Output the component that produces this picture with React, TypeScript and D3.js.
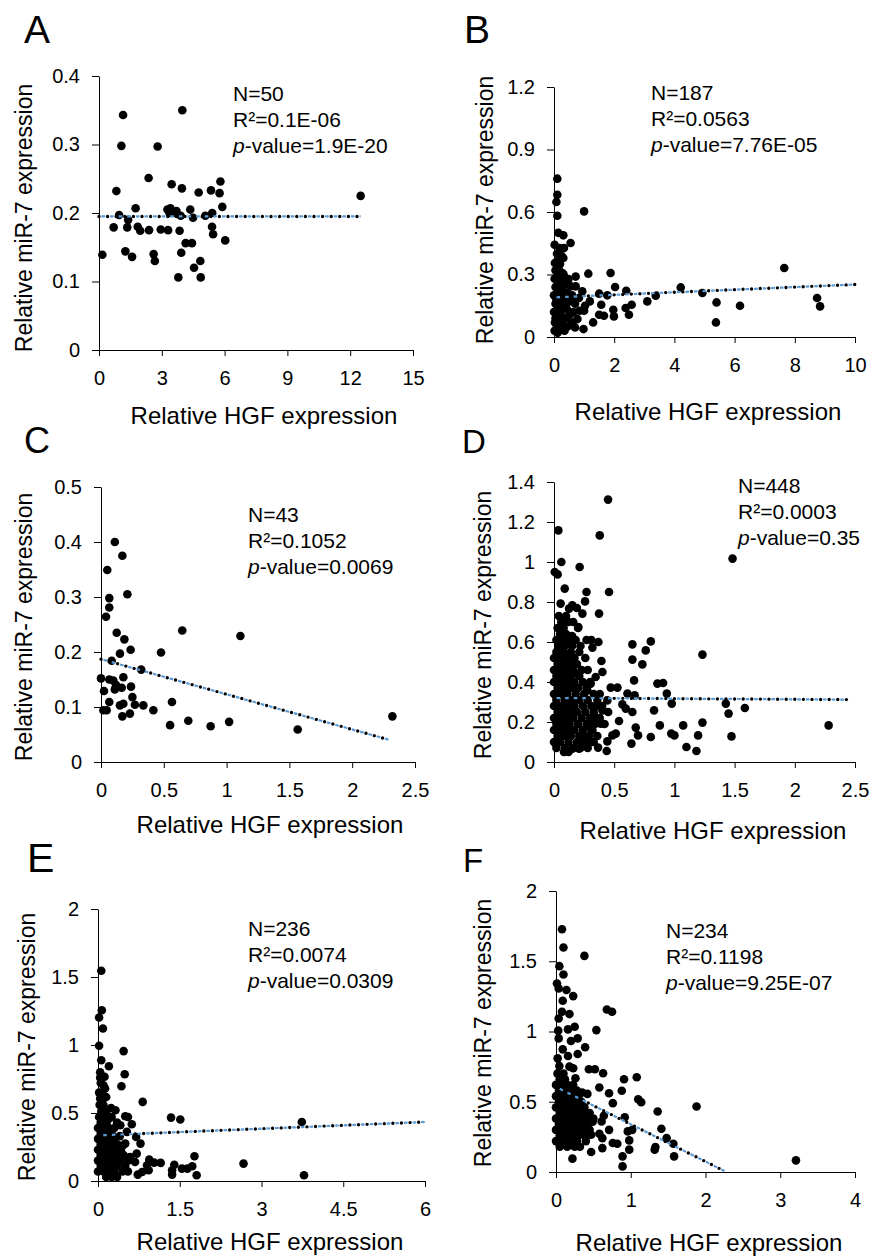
import React, { useEffect, useRef } from 'react';
import * as d3 from 'd3';

type Pt = [number, number];

// ---- panel A ----
const pointsA: Pt[] = [
  [0.16, 0.139], [1.15, 0.343], [1.07, 0.298], [0.83, 0.232], [0.96, 0.197], [0.7, 0.179], [1.39, 0.19],
  [1.35, 0.179], [1.26, 0.144], [1.58, 0.136], [1.75, 0.207], [1.85, 0.18], [1.97, 0.174], [2.39, 0.175],
  [2.37, 0.251], [2.8, 0.297], [2.61, 0.14], [2.67, 0.13], [2.95, 0.176], [3.3, 0.175], [3.27, 0.205],
  [3.41, 0.207], [3.47, 0.242], [3.37, 0.2], [3.7, 0.203], [3.79, 0.106], [3.85, 0.174], [3.96, 0.236],
  [3.98, 0.35], [3.93, 0.142], [3.9, 0.196], [4.14, 0.156], [4.44, 0.156], [4.36, 0.205], [4.49, 0.193],
  [4.54, 0.12], [4.76, 0.23], [4.84, 0.13], [4.86, 0.106], [5.08, 0.196], [5.35, 0.233], [5.41, 0.2],
  [5.4, 0.18], [5.45, 0.169], [5.8, 0.246], [5.76, 0.229], [5.89, 0.209], [6.03, 0.16], [12.5, 0.225],
  [3.57, 0.2],
];
const xTicksA = [0, 3, 6, 9, 12, 15];
const yTicksA = [0, 0.1, 0.2, 0.3, 0.4];
const trendA: Pt[] = [[0, 0.195], [12.5, 0.195]];
const statsA = ['N=50', 'R²=0.1E-06', '1.9E-20'];

// ---- panel B ----
const pointsB: Pt[] = [
  [0.11, 0.76], [0.11, 0.683], [0.08, 0.648], [0.11, 0.582], [1.0, 0.603], [0.14, 0.5], [0.31, 0.488],
  [0.55, 0.451], [0.02, 0.443], [0.19, 0.427], [0.33, 0.427], [0.31, 0.379], [0.03, 0.355], [0.72, 0.29],
  [1.14, 0.304], [1.88, 0.307], [7.65, 0.331], [2.03, 0.24], [2.4, 0.222], [4.21, 0.238], [4.93, 0.211],
  [1.5, 0.208], [1.77, 0.2], [3.38, 0.198], [3.1, 0.171], [5.4, 0.166], [6.18, 0.15], [8.74, 0.187],
  [8.84, 0.147], [5.38, 0.07], [2.58, 0.155], [2.38, 0.139], [2.49, 0.107], [1.97, 0.131], [1.99, 0.099],
  [1.57, 0.155], [1.66, 0.102], [1.5, 0.107], [1.3, 0.07], [1.19, 0.171], [1.03, 0.15], [1.0, 0.126],
  [0.85, 0.126], [0.78, 0.086], [0.7, 0.046], [0.98, 0.038], [0.94, 0.219], [0.72, 0.243], [0.55, 0.243],
  [0.48, 0.278], [0.28, 0.307], [0.17, 0.3], [0.44, 0.211], [0.83, 0.187], [0.64, 0.179],
  [0.02, 0.03], [0.1, 0.05], [0.2, 0.04], [0.3, 0.06], [0.45, 0.05], [0.6, 0.07],
  [0.05, 0.09], [0.15, 0.08], [0.25, 0.1], [0.4, 0.09], [0.55, 0.11],
  [0.0, 0.12], [0.1, 0.13], [0.2, 0.12], [0.3, 0.14], [0.45, 0.13], [0.65, 0.12],
  [0.05, 0.16], [0.15, 0.17], [0.25, 0.16], [0.35, 0.18], [0.5, 0.17], [0.7, 0.16],
  [0.0, 0.2], [0.1, 0.21], [0.2, 0.2], [0.3, 0.22], [0.42, 0.21], [0.6, 0.2],
  [0.05, 0.24], [0.15, 0.25], [0.25, 0.24], [0.35, 0.26], [0.5, 0.25],
  [0.02, 0.28], [0.12, 0.29], [0.22, 0.28], [0.32, 0.3],
  [0.05, 0.32], [0.15, 0.33], [0.08, 0.36], [0.2, 0.35], [0.1, 0.4], [0.25, 0.39],
  [0.03, 0.07], [0.08, 0.18], [0.18, 0.14], [0.28, 0.18], [0.38, 0.15], [0.48, 0.2], [0.12, 0.02], [0.35, 0.03],
];
const xTicksB = [0, 2, 4, 6, 8, 10];
const yTicksB = [0, 0.3, 0.6, 0.9, 1.2];
const trendB: Pt[] = [[0, 0.19], [10, 0.252]];
const statsB = ['N=187', 'R²=0.0563', '7.76E-05'];

// ---- panel C ----
const pointsC: Pt[] = [
  [0.11, 0.4], [0.17, 0.375], [0.05, 0.349], [0.21, 0.305], [0.066, 0.298], [0.066, 0.281], [0.04, 0.264],
  [0.125, 0.235], [0.186, 0.223], [0.151, 0.197], [0.236, 0.204], [0.085, 0.184], [0.32, 0.168], [0.478, 0.199],
  [0.647, 0.239], [1.11, 0.229], [0.0, 0.152], [0.066, 0.15], [0.098, 0.148], [0.178, 0.154], [0.024, 0.129],
  [0.11, 0.132], [0.165, 0.135], [0.239, 0.137], [0.25, 0.118], [0.066, 0.109], [0.151, 0.103], [0.178, 0.106],
  [0.27, 0.104], [0.337, 0.103], [0.565, 0.109], [0.019, 0.094], [0.045, 0.094], [0.17, 0.083], [0.23, 0.088],
  [0.417, 0.094], [0.55, 0.067], [0.695, 0.075], [0.873, 0.065], [1.02, 0.073], [1.566, 0.059], [2.32, 0.083],
  [0.12, 0.14],
];
const xTicksC = [0, 0.5, 1, 1.5, 2, 2.5];
const yTicksC = [0, 0.1, 0.2, 0.3, 0.4, 0.5];
const trendC: Pt[] = [[0, 0.187], [2.3, 0.04]];
const statsC = ['N=43', 'R²=0.1052', '0.0069'];

// ---- panel D ----
const pointsD: Pt[] = [
  [0.449, 1.312], [0.036, 1.158], [0.38, 1.133], [1.483, 1.017], [0.061, 1.0], [0.213, 0.975], [0.006, 0.95],
  [0.03, 0.938], [0.457, 0.85], [0.27, 0.85], [0.089, 0.867], [0.258, 0.803], [0.055, 0.792], [0.152, 0.783],
  [0.125, 0.767], [0.236, 0.742], [0.374, 0.742], [0.202, 0.675], [0.651, 0.588], [0.804, 0.603], [0.762, 0.558],
  [1.233, 0.537], [0.651, 0.512], [0.734, 0.488], [0.394, 0.505], [0.369, 0.6], [0.319, 0.572], [0.665, 0.408],
  [0.859, 0.392], [0.906, 0.395], [0.937, 0.342], [0.978, 0.292], [0.831, 0.258], [1.427, 0.292], [1.45, 0.242],
  [1.585, 0.27], [1.233, 0.197], [1.073, 0.183], [0.879, 0.183], [0.679, 0.172], [0.698, 0.133], [0.804, 0.125],
  [0.974, 0.142], [1.0, 0.133], [1.1, 0.075], [1.183, 0.055], [1.197, 0.133], [1.474, 0.128], [2.281, 0.183],
  [0.643, 0.092], [0.513, 0.142], [0.485, 0.133], [0.443, 0.103], [0.438, 0.055], [0.366, 0.072], [0.54, 0.205],
  [0.568, 0.288], [0.527, 0.372], [0.61, 0.342], [0.471, 0.372], [0.67, 0.333], [0.651, 0.25], [0.596, 0.267],
  [0.402, 0.45], [0.346, 0.425], [0.305, 0.392], [0.277, 0.358], [0.443, 0.308], [0.402, 0.258], [0.346, 0.225],
  [0.388, 0.192], [0.319, 0.158], [0.277, 0.183], [0.236, 0.108], [0.208, 0.067], [0.083, 0.05], [0.152, 0.067],
  [0.014, 0.092],
  [0.02, 0.07], [0.09, 0.07], [0.16, 0.07], [0.22, 0.07], [0.28, 0.07],
  [0.0, 0.1], [0.05, 0.1], [0.12, 0.1], [0.19, 0.1], [0.26, 0.1], [0.33, 0.1],
  [0.03, 0.13], [0.08, 0.13], [0.14, 0.13], [0.21, 0.13], [0.29, 0.13], [0.36, 0.13],
  [0.0, 0.16], [0.06, 0.16], [0.11, 0.16], [0.17, 0.16], [0.24, 0.16], [0.31, 0.16],
  [0.02, 0.19], [0.08, 0.19], [0.13, 0.19], [0.2, 0.19], [0.27, 0.19], [0.34, 0.19], [0.42, 0.19],
  [0.0, 0.22], [0.05, 0.22], [0.1, 0.22], [0.16, 0.22], [0.23, 0.22], [0.3, 0.22], [0.38, 0.22],
  [0.03, 0.25], [0.08, 0.25], [0.14, 0.25], [0.19, 0.25], [0.26, 0.25], [0.33, 0.25], [0.45, 0.25],
  [0.0, 0.28], [0.06, 0.28], [0.11, 0.28], [0.17, 0.28], [0.24, 0.28], [0.31, 0.28], [0.4, 0.28],
  [0.02, 0.31], [0.09, 0.31], [0.15, 0.31], [0.21, 0.31], [0.28, 0.31], [0.36, 0.31],
  [0.0, 0.34], [0.05, 0.34], [0.11, 0.34], [0.18, 0.34], [0.25, 0.34], [0.33, 0.34],
  [0.03, 0.37], [0.08, 0.37], [0.14, 0.37], [0.2, 0.37], [0.27, 0.37],
  [0.0, 0.4], [0.06, 0.4], [0.12, 0.4], [0.17, 0.4], [0.24, 0.4], [0.3, 0.4],
  [0.02, 0.43], [0.08, 0.43], [0.14, 0.43], [0.21, 0.43],
  [0.0, 0.46], [0.05, 0.46], [0.1, 0.46], [0.16, 0.46], [0.23, 0.46],
  [0.03, 0.49], [0.08, 0.49], [0.13, 0.49], [0.19, 0.49],
  [0.0, 0.52], [0.06, 0.52], [0.11, 0.52], [0.17, 0.52],
  [0.02, 0.55], [0.08, 0.55], [0.14, 0.55], [0.21, 0.55],
  [0.04, 0.58], [0.09, 0.58], [0.15, 0.58],
  [0.02, 0.61], [0.07, 0.61], [0.13, 0.61], [0.18, 0.61], [0.27, 0.61], [0.31, 0.61],
  [0.05, 0.64], [0.1, 0.64], [0.03, 0.67], [0.08, 0.67], [0.2, 0.67],
  [0.06, 0.7], [0.12, 0.7], [0.16, 0.7], [0.1, 0.73], [0.04, 0.73],
  [0.19, 0.77], [0.15, 0.63], [0.22, 0.58], [0.26, 0.52], [0.2, 0.44], [0.28, 0.46],
  [0.35, 0.28], [0.38, 0.34], [0.32, 0.2], [0.25, 0.13], [0.31, 0.1], [0.12, 0.05],
];
const xTicksD = [0, 0.5, 1, 1.5, 2, 2.5];
const yTicksD = [0, 0.2, 0.4, 0.6, 0.8, 1, 1.2, 1.4];
const trendD: Pt[] = [[0, 0.32], [2.45, 0.312]];
const statsD = ['N=448', 'R²=0.0003', '0.35'];

// ---- panel E ----
const pointsE: Pt[] = [
  [0.06, 1.546], [0.07, 1.256], [0.02, 1.202], [0.09, 1.121], [0.02, 0.994], [0.06, 0.888], [0.2, 0.844],
  [0.47, 0.955], [0.49, 0.785], [0.43, 0.697], [0.04, 0.8], [0.12, 0.766], [0.1, 0.704], [0.04, 0.606],
  [0.15, 0.618], [0.82, 0.582], [0.24, 0.537], [0.32, 0.52], [0.5, 0.476], [0.55, 0.471], [1.34, 0.466],
  [1.51, 0.452], [3.74, 0.434], [0.62, 0.417], [0.41, 0.41], [0.16, 0.434], [0.53, 0.361], [0.7, 0.324],
  [0.78, 0.275], [0.5, 0.275], [0.71, 0.201], [1.77, 0.182], [1.4, 0.12], [1.15, 0.133], [1.03, 0.135],
  [0.94, 0.157], [1.36, 0.079], [1.36, 0.047], [1.54, 0.091], [1.64, 0.091], [1.73, 0.108], [1.81, 0.042],
  [2.67, 0.128], [3.78, 0.042], [0.9, 0.115], [0.93, 0.079], [0.81, 0.066], [0.73, 0.047], [0.68, 0.14],
  [0.59, 0.177],
  [0.15, 0.03], [0.25, 0.03], [0.35, 0.03],
  [0.0, 0.07], [0.1, 0.07], [0.2, 0.07], [0.3, 0.07], [0.45, 0.07], [0.55, 0.07],
  [0.05, 0.11], [0.15, 0.11], [0.25, 0.11], [0.35, 0.11], [0.5, 0.11],
  [0.0, 0.15], [0.1, 0.15], [0.2, 0.15], [0.3, 0.15], [0.4, 0.15], [0.55, 0.15],
  [0.05, 0.19], [0.15, 0.19], [0.25, 0.19], [0.35, 0.19], [0.47, 0.19],
  [0.0, 0.23], [0.1, 0.23], [0.2, 0.23], [0.3, 0.23], [0.42, 0.23],
  [0.05, 0.27], [0.15, 0.27], [0.25, 0.27], [0.35, 0.27],
  [0.0, 0.31], [0.1, 0.31], [0.2, 0.31], [0.3, 0.31],
  [0.05, 0.35], [0.15, 0.35], [0.25, 0.35],
  [0.0, 0.39], [0.1, 0.39], [0.2, 0.39], [0.3, 0.39],
  [0.05, 0.43], [0.12, 0.43], [0.02, 0.47], [0.1, 0.47], [0.25, 0.47],
  [0.06, 0.51], [0.15, 0.51], [0.03, 0.56], [0.1, 0.56], [0.02, 0.65], [0.08, 0.65], [0.05, 0.72],
  [0.18, 0.45], [0.35, 0.43], [0.4, 0.33], [0.45, 0.26], [0.08, 0.6], [0.13, 0.68], [0.04, 0.76],
];
const xTicksE = [0, 1.5, 3, 4.5, 6];
const yTicksE = [0, 0.5, 1, 1.5, 2];
const trendE: Pt[] = [[0.05, 0.336], [6, 0.434]];
const statsE = ['N=236', 'R²=0.0074', '0.0309'];

// ---- panel F ----
const pointsF: Pt[] = [
  [0.08, 1.728], [0.1, 1.598], [0.38, 1.538], [0.045, 1.465], [0.1, 1.406], [0.013, 1.342], [0.036, 1.306],
  [0.14, 1.295], [0.23, 1.252], [0.09, 1.219], [0.68, 1.157], [0.75, 1.141], [0.08, 1.141], [0.18, 1.124],
  [0.036, 1.093], [0.03, 1.006], [0.16, 1.015], [0.25, 1.034], [0.54, 1.01], [0.036, 0.951], [0.29, 0.951],
  [0.2, 0.932], [0.39, 0.888], [0.09, 0.873], [0.29, 0.84], [0.022, 0.809], [0.16, 0.826], [0.045, 0.755],
  [0.18, 0.75], [0.23, 0.738], [0.44, 0.731], [0.52, 0.731], [0.63, 0.703], [1.08, 0.674], [0.26, 0.667],
  [0.91, 0.66], [0.58, 0.601], [0.88, 0.578], [0.71, 0.561], [0.35, 0.566], [0.42, 0.556], [1.1, 0.518],
  [1.14, 0.497], [0.76, 0.49], [1.88, 0.466], [1.36, 0.431], [0.92, 0.39], [1.41, 0.308], [1.48, 0.241],
  [1.57, 0.201], [1.58, 0.111], [1.33, 0.178], [1.32, 0.159], [0.98, 0.225], [0.98, 0.159], [0.89, 0.111],
  [0.89, 0.04], [0.82, 0.201], [0.76, 0.206], [0.62, 0.17], [0.47, 0.142], [0.22, 0.095], [3.21, 0.083],
  [1.02, 0.3], [0.96, 0.289], [0.71, 0.3], [0.62, 0.241], [0.58, 0.272], [0.47, 0.265], [0.36, 0.3],
  [0.49, 0.358], [0.61, 0.36], [0.64, 0.4], [0.36, 0.43], [0.21, 0.49], [0.16, 0.206], [0.045, 0.206],
  [0.05, 0.18], [0.15, 0.18], [0.25, 0.18], [0.32, 0.18],
  [0.0, 0.22], [0.1, 0.22], [0.2, 0.22], [0.28, 0.22], [0.4, 0.22],
  [0.05, 0.26], [0.12, 0.26], [0.2, 0.26], [0.3, 0.26], [0.38, 0.26],
  [0.0, 0.3], [0.08, 0.3], [0.15, 0.3], [0.22, 0.3], [0.3, 0.3], [0.45, 0.3],
  [0.04, 0.34], [0.12, 0.34], [0.19, 0.34], [0.26, 0.34], [0.35, 0.34], [0.42, 0.34],
  [0.0, 0.38], [0.08, 0.38], [0.15, 0.38], [0.22, 0.38], [0.3, 0.38], [0.4, 0.38], [0.5, 0.38],
  [0.05, 0.42], [0.12, 0.42], [0.18, 0.42], [0.26, 0.42], [0.33, 0.42], [0.45, 0.42],
  [0.0, 0.46], [0.08, 0.46], [0.15, 0.46], [0.22, 0.46], [0.3, 0.46], [0.38, 0.46],
  [0.04, 0.5], [0.11, 0.5], [0.18, 0.5], [0.26, 0.5], [0.34, 0.5],
  [0.0, 0.54], [0.08, 0.54], [0.15, 0.54], [0.22, 0.54], [0.3, 0.54],
  [0.04, 0.58], [0.11, 0.58], [0.19, 0.58], [0.28, 0.58],
  [0.0, 0.62], [0.08, 0.62], [0.15, 0.62], [0.23, 0.62],
  [0.05, 0.66], [0.12, 0.66], [0.02, 0.7], [0.1, 0.7],
];
const xTicksF = [0, 1, 2, 3, 4];
const yTicksF = [0, 0.5, 1, 1.5, 2];
const trendF: Pt[] = [[0.02, 0.6], [2.28, 0]];
const statsF = ['N=234', 'R²=0.1198', '9.25E-07'];

const FONT = "'Liberation Sans', Arial, Helvetica, sans-serif";

// page layout of every panel (pixels)
const panels = [
  { letter: 'A', points: pointsA, xTicks: xTicksA, yTicks: yTicksA, trend: trendA, stats: statsA,
    left: 99, right: 413, top: 76, bottom: 350, letterX: 24, letterY: 43, letterSize: 39,
    statX: 233, statY: 101, xTitleX: 264, xTitleY: 424, yTitleX: 32, yTitleY: 218 },
  { letter: 'B', points: pointsB, xTicks: xTicksB, yTicks: yTicksB, trend: trendB, stats: statsB,
    left: 554, right: 855, top: 87, bottom: 337, letterX: 464, letterY: 43, letterSize: 39,
    statX: 651, statY: 100, xTitleX: 708, xTitleY: 420, yTitleX: 493, yTitleY: 210 },
  { letter: 'C', points: pointsC, xTicks: xTicksC, yTicks: yTicksC, trend: trendC, stats: statsC,
    left: 101, right: 415, top: 487, bottom: 762, letterX: 24, letterY: 453, letterSize: 36,
    statX: 248, statY: 522, xTitleX: 270, xTitleY: 833, yTitleX: 32, yTitleY: 627 },
  { letter: 'D', points: pointsD, xTicks: xTicksD, yTicks: yTicksD, trend: trendD, stats: statsD,
    left: 554, right: 855, top: 482, bottom: 762, letterX: 462, letterY: 453, letterSize: 33,
    statX: 738, statY: 493, xTitleX: 713, xTitleY: 839, yTitleX: 491, yTitleY: 625 },
  { letter: 'E', points: pointsE, xTicks: xTicksE, yTicks: yTicksE, trend: trendE, stats: statsE,
    left: 98, right: 425, top: 909, bottom: 1181, letterX: 27, letterY: 872, letterSize: 41,
    statX: 248, statY: 936, xTitleX: 270, xTitleY: 1250, yTitleX: 35, yTitleY: 1047 },
  { letter: 'F', points: pointsF, xTicks: xTicksF, yTicks: yTicksF, trend: trendF, stats: statsF,
    left: 556, right: 855, top: 891, bottom: 1172, letterX: 463, letterY: 872, letterSize: 33,
    statX: 666, statY: 938, xTitleX: 709, xTitleY: 1251, yTitleX: 491, yTitleY: 1033 },
];

function App() {
  const svgRef = useRef<SVGSVGElement>(null);

  useEffect(() => {
    const svg = d3.select(svgRef.current);
    svg.selectAll('*').remove();
    svg.append('rect').attr('width', 872).attr('height', 1258).attr('fill', '#fff');

    panels.forEach(p => {
      const g = svg.append('g').attr('font-family', FONT);
      const x = d3.scaleLinear()
        .domain([p.xTicks[0], p.xTicks[p.xTicks.length - 1]])
        .range([p.left, p.right]);
      const y = d3.scaleLinear()
        .domain([p.yTicks[0], p.yTicks[p.yTicks.length - 1]])
        .range([p.bottom, p.top]);

      const xAxis = d3.axisBottom(x)
        .tickValues(p.xTicks)
        .tickFormat(d => String(d))
        .tickSizeInner(6)
        .tickSizeOuter(0)
        .tickPadding(15);
      const yAxis = d3.axisLeft(y)
        .tickValues(p.yTicks)
        .tickFormat(d => String(d))
        .tickSizeInner(7)
        .tickSizeOuter(0)
        .tickPadding(12);

      g.append('g')
        .attr('transform', `translate(0, ${p.bottom})`)
        .call(xAxis)
        .attr('font-size', 20)
        .attr('font-family', FONT);
      g.append('g')
        .attr('transform', `translate(${p.left}, 0)`)
        .call(yAxis)
        .attr('font-size', 20)
        .attr('font-family', FONT);

      g.selectAll('.dot')
        .data(p.points)
        .join('circle')
        .attr('class', 'dot')
        .attr('cx', d => x(d[0]))
        .attr('cy', d => y(d[1]))
        .attr('r', 4.3)
        .attr('fill', '#000');

      // trendline: blue dashes with black round dots between
      const line = d3.line<Pt>().x(d => x(d[0])).y(d => y(d[1]));
      g.append('path')
        .attr('d', line(p.trend))
        .attr('fill', 'none')
        .attr('stroke', '#5b9bd5')
        .attr('stroke-width', 2.2)
        .attr('stroke-dasharray', '3.6 5')
        .attr('stroke-dashoffset', -2.5);
      g.append('path')
        .attr('d', line(p.trend))
        .attr('fill', 'none')
        .attr('stroke', '#000')
        .attr('stroke-width', 3.4)
        .attr('stroke-linecap', 'round')
        .attr('stroke-dasharray', '0 8.6');

      // stats
      const st = g.append('g').attr('font-size', 21).attr('fill', '#000');
      st.append('text').attr('x', p.statX).attr('y', p.statY).text(p.stats[0]);
      st.append('text').attr('x', p.statX).attr('y', p.statY + 26).text(p.stats[1]);
      const pv = st.append('text').attr('x', p.statX).attr('y', p.statY + 52);
      pv.append('tspan').attr('font-style', 'italic').text('p');
      pv.append('tspan').text('-value=' + p.stats[2]);

      // titles
      g.append('text')
        .attr('x', p.xTitleX)
        .attr('y', p.xTitleY)
        .attr('text-anchor', 'middle')
        .attr('font-size', 24)
        .text('Relative HGF expression');
      g.append('text')
        .attr('transform', `translate(${p.yTitleX}, ${p.yTitleY}) rotate(-90)`)
        .attr('text-anchor', 'middle')
        .attr('font-size', 23)
        .text('Relative miR-7 expression');

      g.append('text')
        .attr('x', p.letterX)
        .attr('y', p.letterY)
        .attr('font-size', p.letterSize)
        .text(p.letter);
    });
  }, []);

  return (
    <svg
      ref={svgRef}
      width={872}
      height={1258}
      style={{ position: 'absolute', left: 0, top: 0, display: 'block' }}
    />
  );
}

export default App;
